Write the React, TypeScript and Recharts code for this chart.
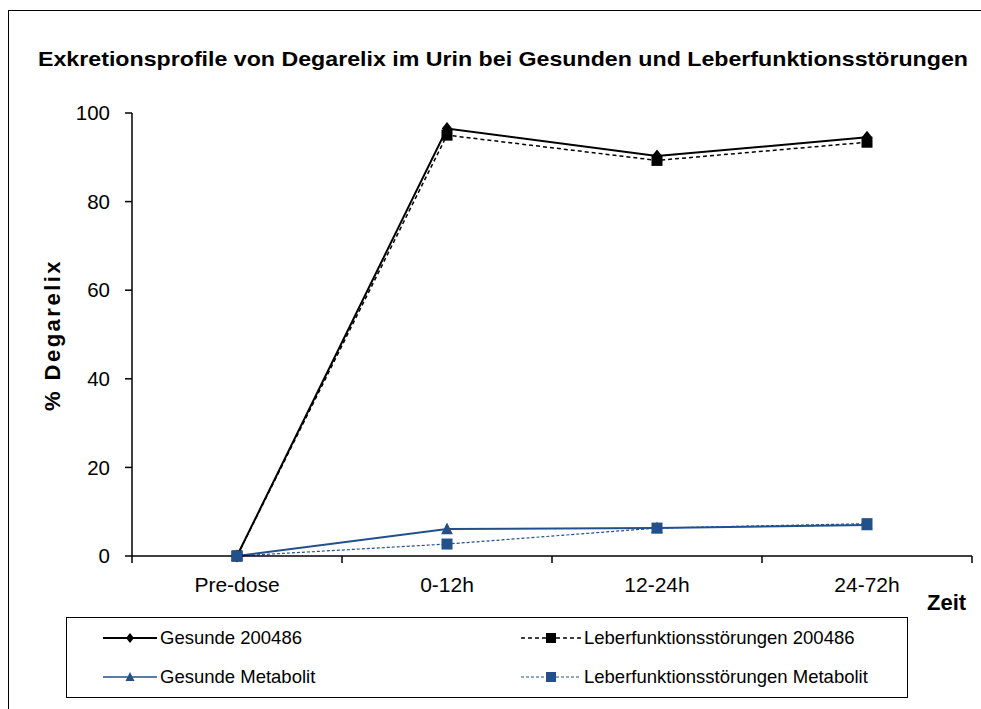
import { LineChart, Line, XAxis, YAxis } from 'recharts'

const categories = ['Pre-dose', '0-12h', '12-24h', '24-72h']
const gesunde200486 = [0, 96.5, 90.3, 94.5]
const leber200486 = [0, 95.0, 89.3, 93.4]
const gesundeMetabolit = [0, 6.1, 6.3, 7.0]
const leberMetabolit = [0, 2.7, 6.3, 7.3]
const yTicks = [0, 20, 40, 60, 80, 100]

const FONT = '"Liberation Sans", Arial, sans-serif'
const BLUE = '#22508A'

// category centres plus the boundaries between them (Excel style tick marks)
const xTicks = categories.flatMap((_, i) => [i - 0.5, i]).concat(categories.length - 0.5)

const chartData = categories.map((c, i) => ({
  pos: i,
  category: c,
  g200486: gesunde200486[i],
  l200486: leber200486[i],
  gMet: gesundeMetabolit[i],
  lMet: leberMetabolit[i],
}))

const CategoryTick = (props: any) => {
  const { x, y, payload } = props
  const v = payload.value
  if (Number.isInteger(v)) {
    return (
      <text x={x} y={y + 36} textAnchor="middle" fontSize={21} fill="#000" fontFamily={FONT}>
        {categories[v]}
      </text>
    )
  }
  return <line x1={x} x2={x} y1={y} y2={y + 7} stroke="#000" strokeWidth={1.5} />
}

// marker shapes; "size" is half the marker extent (Recharts overrides r on dots)
const Diamond = ({ cx, cy, fill, size = 6.5 }: any) =>
  cx == null ? null : (
    <path
      d={`M${cx},${cy - size} L${cx + size * 0.8},${cy} L${cx},${cy + size} L${cx - size * 0.8},${cy} Z`}
      fill={fill}
    />
  )

const Square = ({ cx, cy, fill, size = 5.5 }: any) =>
  cx == null ? null : <rect x={cx - size} y={cy - size} width={size * 2} height={size * 2} fill={fill} />

const Triangle = ({ cx, cy, fill, size = 6.5 }: any) =>
  cx == null ? null : (
    <path
      d={`M${cx},${cy - size} L${cx + size * 0.9},${cy + size * 0.8} L${cx - size * 0.9},${cy + size * 0.8} Z`}
      fill={fill}
    />
  )

const legendItems = [
  { label: 'Gesunde 200486', color: '#000', dash: undefined, width: 2, Marker: Diamond },
  { label: 'Leberfunktionsstörungen 200486', color: '#000', dash: '4 3', width: 1.5, Marker: Square },
  { label: 'Gesunde Metabolit', color: BLUE, dash: undefined, width: 1.5, Marker: Triangle },
  { label: 'Leberfunktionsstörungen Metabolit', color: BLUE, dash: '3 2', width: 1, Marker: Square },
]

function LegendBox() {
  return (
    <div
      style={{
        position: 'absolute',
        left: 66,
        top: 617,
        width: 840,
        height: 79,
        border: '1px solid #000',
        background: '#fff',
      }}
    >
      {legendItems.map((item, i) => {
        const col = i % 2
        const row = Math.floor(i / 2)
        const lineW = col === 0 ? 54 : 60
        const left = col === 0 ? 36 : 454
        return (
          <div
            key={item.label}
            style={{
              position: 'absolute',
              left,
              top: 8 + row * 39,
              height: 24,
              display: 'flex',
              alignItems: 'center',
              whiteSpace: 'nowrap',
            }}
          >
            <svg width={lineW} height={24}>
              <line
                x1={0}
                x2={lineW}
                y1={12}
                y2={12}
                stroke={item.color}
                strokeWidth={item.width}
                strokeDasharray={item.dash}
              />
              <item.Marker cx={lineW / 2} cy={12} fill={item.color} size={5} />
            </svg>
            <span style={{ marginLeft: 3, fontFamily: FONT, fontSize: 18.5, color: '#000' }}>{item.label}</span>
          </div>
        )
      })}
    </div>
  )
}

export default function App() {
  return (
    <div
      style={{
        position: 'absolute',
        left: 0,
        top: 0,
        width: 981,
        height: 709,
        overflow: 'hidden',
        background: '#fff',
      }}
    >
      <div
        style={{
          position: 'absolute',
          left: 8,
          top: 10,
          width: 990,
          height: 720,
          borderLeft: '1px solid #000',
          borderTop: '1px solid #000',
        }}
      />
      <svg style={{ position: 'absolute', left: 0, top: 0 }} width={981} height={100}>
        <text
          x={38}
          y={66}
          fontFamily={FONT}
          fontWeight="bold"
          fontSize={21}
          textLength={930}
          lengthAdjust="spacingAndGlyphs"
          fill="#000"
        >
          Exkretionsprofile von Degarelix im Urin bei Gesunden und Leberfunktionsstörungen
        </text>
      </svg>
      <div
        style={{
          position: 'absolute',
          left: 53,
          top: 335,
          transform: 'translate(-50%, -50%) rotate(-90deg)',
          fontFamily: FONT,
          fontWeight: 'bold',
          fontSize: 22,
          letterSpacing: 2.5,
          whiteSpace: 'nowrap',
          color: '#000',
        }}
      >
        % Degarelix
      </div>
      <div
        style={{
          position: 'absolute',
          left: 927,
          top: 590,
          fontFamily: FONT,
          fontWeight: 'bold',
          fontSize: 22,
          color: '#000',
        }}
      >
        Zeit
      </div>
      <div style={{ position: 'absolute', left: 0, top: 0 }}>
        <LineChart
          width={981}
          height={709}
          data={chartData}
          margin={{ top: 113, right: 9, left: 72, bottom: 113 }}
        >
          <XAxis
            dataKey="pos"
            type="number"
            domain={[-0.5, categories.length - 0.5]}
            ticks={xTicks}
            interval={0}
            tick={<CategoryTick />}
            tickLine={false}
            tickSize={0}
            tickMargin={0}
            height={40}
            axisLine={{ stroke: '#000', strokeWidth: 1.5 }}
          />
          <YAxis
            domain={[0, 100]}
            ticks={yTicks}
            width={60}
            tickSize={7}
            tickMargin={15}
            tick={{ fill: '#000', fontSize: 20.5, fontFamily: FONT }}
            tickLine={{ stroke: '#000', strokeWidth: 1.5 }}
            axisLine={{ stroke: '#000', strokeWidth: 1.5 }}
          />
          <Line
            dataKey="g200486"
            stroke="#000"
            strokeWidth={2}
            dot={<Diamond fill="#000" />}
            activeDot={false}
            isAnimationActive={false}
          />
          <Line
            dataKey="l200486"
            stroke="#000"
            strokeWidth={1.5}
            strokeDasharray="4 3"
            dot={<Square fill="#000" />}
            activeDot={false}
            isAnimationActive={false}
          />
          <Line
            dataKey="gMet"
            stroke={BLUE}
            strokeWidth={2}
            dot={<Triangle fill={BLUE} />}
            activeDot={false}
            isAnimationActive={false}
          />
          <Line
            dataKey="lMet"
            stroke={BLUE}
            strokeWidth={1.2}
            strokeDasharray="3 2"
            dot={<Square fill={BLUE} />}
            activeDot={false}
            isAnimationActive={false}
          />
        </LineChart>
      </div>
      <LegendBox />
    </div>
  )
}
